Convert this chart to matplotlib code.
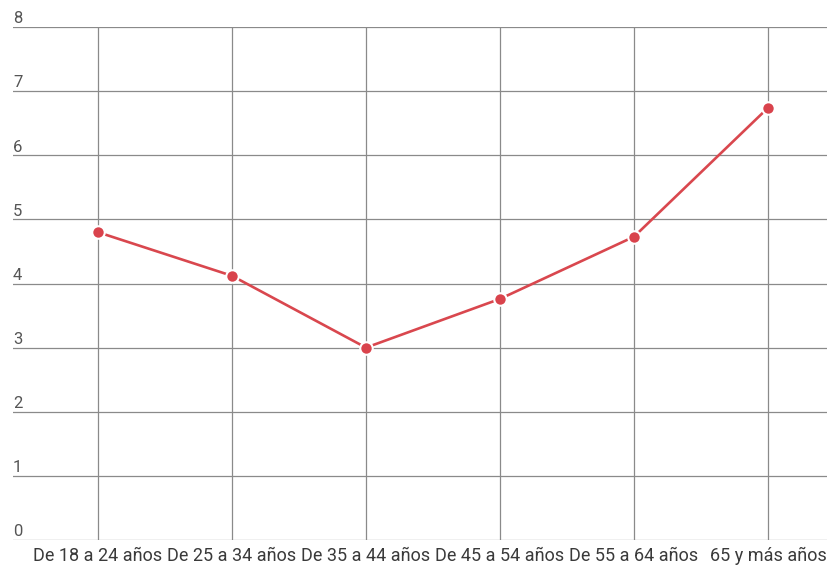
import matplotlib
matplotlib.use("Agg")
import matplotlib.pyplot as plt
from matplotlib.transforms import ScaledTranslation

plt.rcParams['font.family'] = ['Roboto', 'DejaVu Sans']

categories = ["De 18 a 24 años", "De 25 a 34 años", "De 35 a 44 años",
              "De 45 a 54 años", "De 55 a 64 años", "65 y más años"]
values = [4.8, 4.12, 3.0, 3.76, 4.73, 6.74]
y_ticks = [0, 1, 2, 3, 4, 5, 6, 7, 8]

fig = plt.figure(figsize=(8.27, 5.67), dpi=100)
ax = fig.add_axes([13 / 827, 27 / 567, 1 - 13 / 827, 513 / 567])

x = list(range(len(categories)))
ax.plot(x, values, color='#d9474e', linewidth=1.9, marker='o', markersize=9,
        markerfacecolor='#d9434c', markeredgecolor='white', markeredgewidth=1.5,
        zorder=3, clip_on=False)

ax.set_xlim(-0.634, 5.44)
ax.set_ylim(0, 8)
ax.set_xticks(x)
ax.set_xticklabels(categories, fontsize=13, color='#3a3a3a')
ax.set_yticks(y_ticks)
ax.set_yticklabels([str(t) for t in y_ticks], fontsize=12, color='#555555')

ax.grid(True, color='#8a8a8a', linewidth=0.9)
ax.set_axisbelow(True)
for s in ax.spines.values():
    s.set_visible(False)
ax.tick_params(axis='both', length=0)
ax.tick_params(axis='x', pad=5)
ax.tick_params(axis='y', pad=0)
offset = ScaledTranslation(0, 0.5 / 72, fig.dpi_scale_trans)
for lab in ax.get_yticklabels():
    lab.set_horizontalalignment('left')
    lab.set_verticalalignment('bottom')
    lab.set_transform(lab.get_transform() + offset)

fig.savefig("out.png", dpi=100, facecolor='white')
